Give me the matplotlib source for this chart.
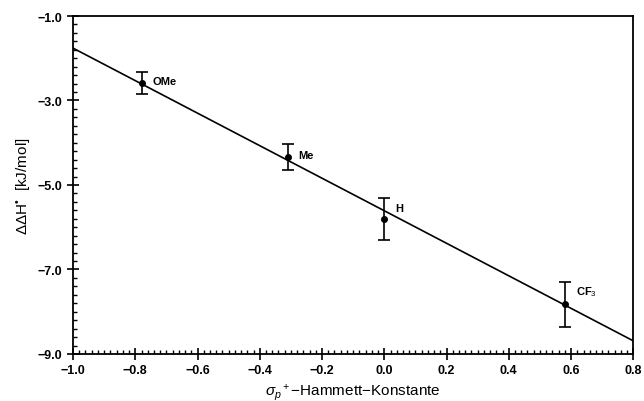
import numpy as np
import matplotlib
matplotlib.use("Agg")
import matplotlib.pyplot as plt
from matplotlib.ticker import MultipleLocator, FixedLocator

plt.rcParams['font.family'] = ['Liberation Sans', 'DejaVu Sans']
plt.rcParams['mathtext.fontset'] = 'custom'
plt.rcParams['mathtext.rm'] = 'Liberation Sans'
plt.rcParams['mathtext.it'] = 'Liberation Sans:italic'

# Hammett-Daten
substituenten = ["OMe", "Me", "H", "CF$_3$"]
sigma = [-0.78, -0.31, 0.0, 0.58]
ddH = [-2.59, -4.34, -5.80, -7.82]
fehler = [0.26, 0.30, 0.50, 0.53]

# Regressionsgerade (Endpunkte)
gerade_x = [-1.0, 0.8]
gerade_y = [-1.76, -8.69]

x_ticks = [-1.0, -0.8, -0.6, -0.4, -0.2, 0.0, 0.2, 0.4, 0.6, 0.8]
y_ticks = [-9.0, -7.0, -5.0, -3.0, -1.0]

fig = plt.figure(figsize=(6.44, 4.02), dpi=100)
ax = fig.add_axes([0.1134, 0.117, 0.8700, 0.8407])

ax.plot(gerade_x, gerade_y, color="black", linewidth=1.2)
ax.errorbar(sigma, ddH, yerr=fehler, fmt="o", color="black", markersize=4,
            capsize=4, elinewidth=1.2, capthick=1.2)

versatz = [(0.035, 0.05), (0.035, 0.05), (0.035, 0.25), (0.035, 0.3)]
for name, x, y, (dx, dy) in zip(substituenten, sigma, ddH, versatz):
    ax.text(x + dx, y + dy, name, fontsize=8, fontweight="bold", va="center", ha="left")

ax.set_xlim(-1.0, 0.8)
ax.set_ylim(-9.0, -1.0)
ax.xaxis.set_major_locator(FixedLocator(x_ticks))
ax.xaxis.set_minor_locator(MultipleLocator(0.02))
ax.yaxis.set_major_locator(FixedLocator(y_ticks))
ax.yaxis.set_minor_locator(MultipleLocator(0.2))
ax.set_xticklabels([f"{v:.1f}".replace("-", "\u2212") for v in x_ticks])
ax.set_yticklabels([f"{v:.1f}".replace("-", "\u2212") for v in y_ticks])

ax.tick_params(which="major", direction="inout", length=8, width=1.2, labelsize=9)
ax.tick_params(which="minor", direction="in", length=3, width=1)
for lbl in ax.get_xticklabels() + ax.get_yticklabels():
    lbl.set_fontweight("bold")

for s in ax.spines.values():
    s.set_linewidth(1.3)

ax.set_xlabel("$\\sigma_p$$^+$\u2212Hammett\u2212Konstante", fontsize=11)
ax.set_ylabel("\u0394\u0394H$^{\u2022}$  [kJ/mol]", fontsize=11)

fig.savefig("out.png", dpi=100)
